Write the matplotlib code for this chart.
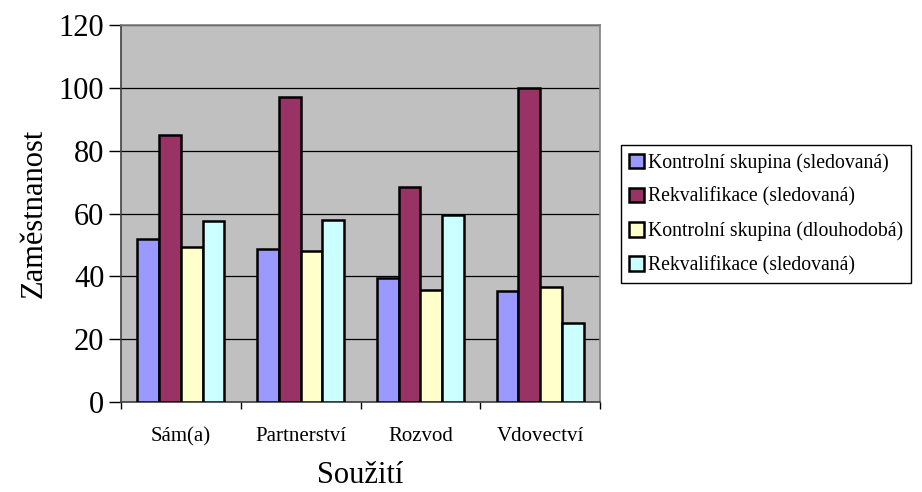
import matplotlib.pyplot as plt
import numpy as np

plt.rcParams.update({
    "figure.dpi": 100,
    "font.family": ["Liberation Serif", "DejaVu Serif"],
})

# Data
categories = ["Sám(a)", "Partnerství", "Rozvod", "Vdovectví"]
series_names = [
    "Kontrolní skupina (sledovaná)",
    "Rekvalifikace (sledovaná)",
    "Kontrolní skupina (dlouhodobá)",
    "Rekvalifikace (sledovaná)",
]
kontrolni_sled = [51.8, 48.8, 39.6, 35.3]
rekval_sled = [84.9, 97.0, 68.4, 100.0]
kontrolni_dlouh = [49.3, 48.1, 35.8, 36.7]
rekval_sled2 = [57.6, 58.0, 59.6, 25.1]
colors = ["#9999FF", "#993366", "#FFFFCC", "#CCFFFF"]
y_ticks = [0, 20, 40, 60, 80, 100, 120]

all_series = [kontrolni_sled, rekval_sled, kontrolni_dlouh, rekval_sled2]

fig = plt.figure(figsize=(9.22, 4.92))
ax = fig.add_axes([0.1312, 0.183, 0.5196, 0.766])
ax.set_facecolor("#C0C0C0")

x = np.arange(len(categories))
bar_width = 0.182
offsets = (np.arange(4) - 1.5) * bar_width
for vals, name, col, off in zip(all_series, series_names, colors, offsets):
    ax.bar(x + off, vals, width=bar_width, color=col, edgecolor="black",
           linewidth=1.8, label=name, zorder=3)

ax.set_xlim(-0.5, len(categories) - 0.5)
ax.set_ylim(0, 120)
ax.set_yticks(y_ticks)
ax.tick_params(axis="y", labelsize=22, length=9, width=1, pad=3, direction="out")
ax.yaxis.grid(True, color="black", linewidth=0.9, zorder=1)

# category labels centered, ticks at group boundaries
ax.set_xticks(x)
ax.set_xticklabels(categories)
ax.tick_params(axis="x", which="major", length=0, labelsize=15, pad=18)
ax.set_xticks(np.arange(len(categories) + 1) - 0.5, minor=True)
ax.tick_params(axis="x", which="minor", length=5, width=1)

for side in ["top", "right"]:
    ax.spines[side].set_color("#808080")
    ax.spines[side].set_linewidth(1.2)
for side in ["left", "bottom"]:
    ax.spines[side].set_color("#404040")
    ax.spines[side].set_linewidth(1.2)

ax.set_ylabel("Zaměstnanost", fontsize=22, labelpad=7)
ax.set_xlabel("Soužití", fontsize=22, labelpad=11)

leg = fig.legend(loc="upper left", bbox_to_anchor=(621 / 922, 1 - 145 / 492),
                 fontsize=14.2, frameon=True, fancybox=False, framealpha=1,
                 edgecolor="black", handlelength=0.75, handleheight=0.75,
                 handletextpad=0.2, labelspacing=0.75, borderpad=0.4,
                 borderaxespad=0)
leg.get_frame().set_linewidth(1.0)

fig.savefig("out.png", dpi=100)
